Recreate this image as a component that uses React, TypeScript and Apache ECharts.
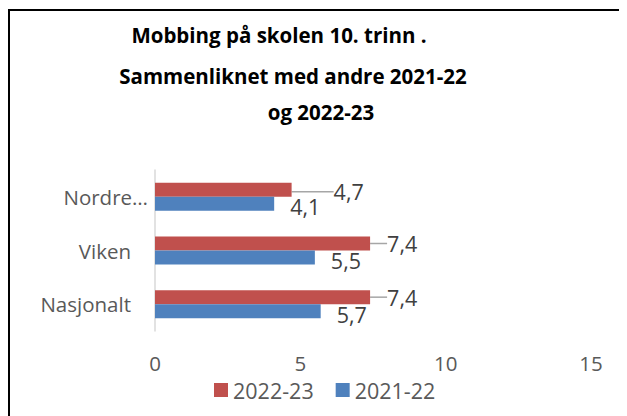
import React, { useEffect, useRef } from "react";
import * as echarts from "echarts";

const titleLines = ["Mobbing på skolen 10. trinn .", "Sammenliknet med andre 2021-22", "og 2022-23"];
const categories = ["Nordre…", "Viken", "Nasjonalt"];
const seriesNames = ["2022-23", "2021-22"];
const values2223 = [4.7, 7.4, 7.4];
const values2122 = [4.1, 5.5, 5.7];
const xTicks = { min: 0, max: 15, interval: 5 };

const FONT = "'Open Sans', 'Noto Sans', sans-serif";
const fmt = (p: any) => String(p.value).replace(".", ",");

export default function App() {
  const ref = useRef<HTMLDivElement>(null);
  useEffect(() => {
    if (!ref.current) return;
    const chart = echarts.init(ref.current, undefined, { renderer: "svg" });
    const titleCenters = [271, 285, 313];
    const titleYs = [27, 68, 104];
    chart.setOption({
      animation: false,
      backgroundColor: "#fff",
      title: titleLines.map((t, i) => ({
        text: t,
        left: titleCenters[i],
        top: titleYs[i],
        padding: 0,
        textAlign: "center",
        textVerticalAlign: "middle",
        textStyle: { fontFamily: FONT, fontWeight: "bold", fontSize: 20.5, color: "#000" },
      })),
      graphic: [
        { type: "line", shape: { x1: 0, y1: 2, x2: 619, y2: 2 }, style: { stroke: "#000", lineWidth: 2 } },
        { type: "line", shape: { x1: 1, y1: 1, x2: 1, y2: 408 }, style: { stroke: "#000", lineWidth: 2 } },
      ],
      legend: {
        data: seriesNames,
        left: 206,
        top: 371,
        padding: 0,
        itemWidth: 14,
        itemHeight: 14,
        itemGap: 22,
        icon: "rect",
        textStyle: { fontFamily: FONT, fontSize: 21.5, color: "#595959" },
      },
      grid: { left: 147, top: 162, width: 436, height: 161, containLabel: false },
      xAxis: {
        type: "value",
        min: xTicks.min,
        max: xTicks.max,
        interval: xTicks.interval,
        splitLine: { show: false },
        axisLine: { show: false },
        axisTick: { show: false },
        axisLabel: { fontFamily: FONT, fontSize: 20.5, color: "#595959", margin: 21 },
      },
      yAxis: {
        type: "category",
        inverse: true,
        data: categories,
        axisLine: { show: true, lineStyle: { color: "#d9d9d9", width: 1.5 } },
        axisTick: { show: false },
        axisLabel: {
          fontFamily: FONT,
          fontSize: 20.5,
          color: "#595959",
          margin: 7,
          formatter: (v: string, i: number) => (i === 0 ? v : `{p|${v}}`),
          rich: { p: { fontFamily: FONT, fontSize: 20.5, color: "#595959", padding: [0, 17, 0, 0] } },
        },
      },
      series: [
        {
          name: seriesNames[0],
          type: "bar",
          data: values2223,
          barWidth: 14,
          barGap: "0%",
          itemStyle: { color: "#C0504D" },
          label: {
            show: true,
            position: "right",
            distance: 17,
            formatter: fmt,
            fontFamily: FONT,
            fontSize: 21.5,
            color: "#404040",
          },
          labelLine: { show: true, lineStyle: { color: "#a6a6a6", width: 1.5 } },
          labelLayout: (p: any) => (p.dataIndex === 0 ? { dx: 25, dy: 2 } : {}),
        },
        {
          name: seriesNames[1],
          type: "bar",
          data: values2122,
          barWidth: 14,
          barGap: "0%",
          itemStyle: { color: "#4F81BD" },
          label: {
            show: true,
            position: "right",
            distance: 16,
            formatter: fmt,
            fontFamily: FONT,
            fontSize: 21.5,
            color: "#404040",
          },
          labelLayout: { dy: 3 },
        },
      ],
    });
    return () => chart.dispose();
  }, []);
  return <div ref={ref} style={{ width: 619, height: 408 }} />;
}
